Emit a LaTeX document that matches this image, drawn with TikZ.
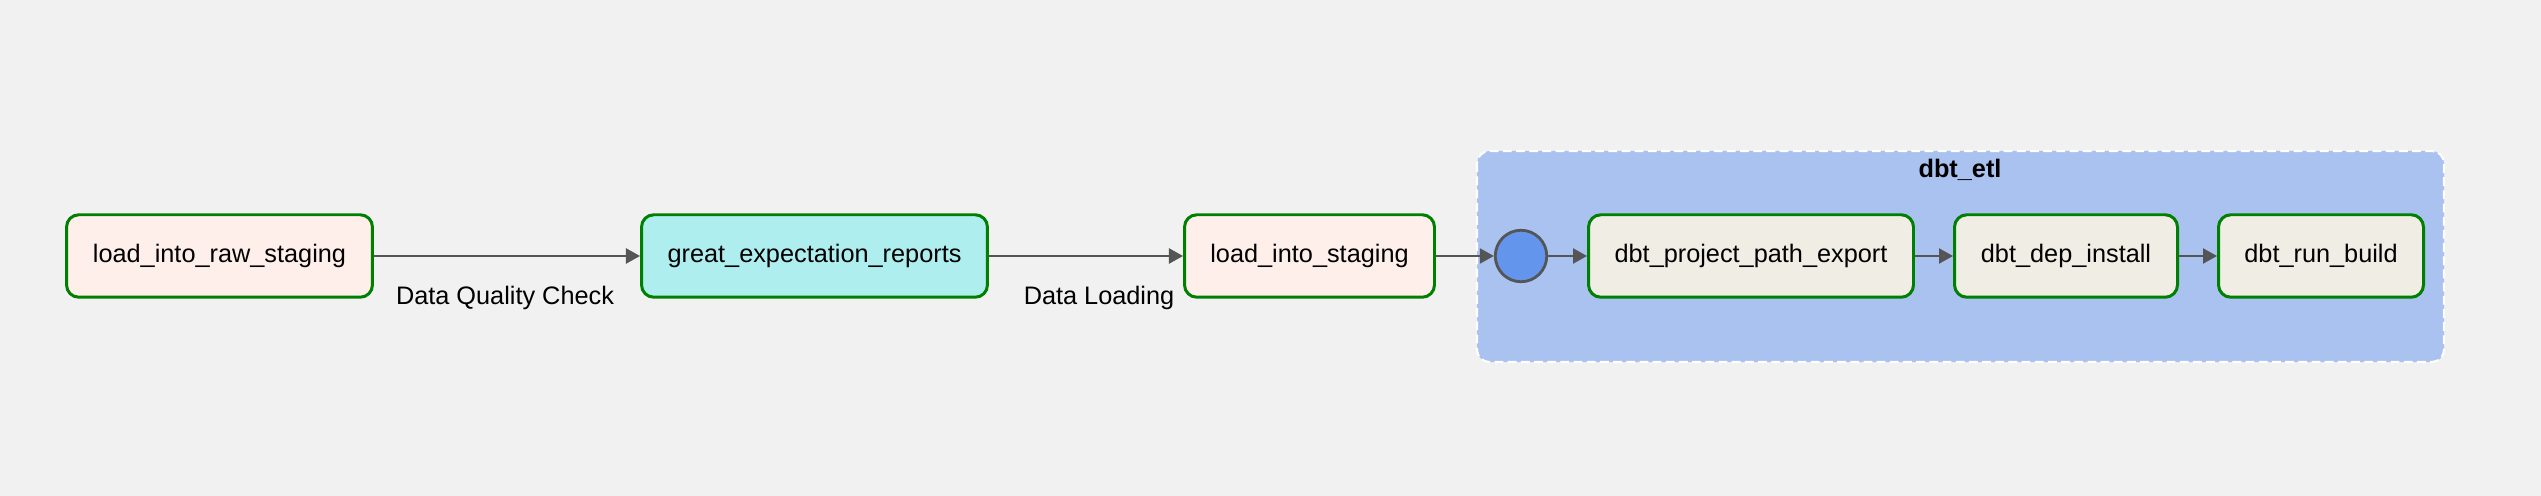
\documentclass[tikz,border=0pt]{standalone}
\usepackage{fontspec}
\setmainfont{Liberation Sans}
\usetikzlibrary{arrows.meta}
\definecolor{bgcol}{HTML}{F1F1F1}
\definecolor{groupblue}{HTML}{A9C2F0}
\definecolor{pyfill}{HTML}{FFEFEB}
\definecolor{gefill}{HTML}{AFEEEE}
\definecolor{bashfill}{HTML}{F0EDE4}
\definecolor{taskgreen}{HTML}{008000}
\definecolor{edgegray}{HTML}{555555}
\definecolor{startblue}{HTML}{6495ED}
\begin{document}
\begin{tikzpicture}[x=0.02cm, y=0.02cm]
                          \tikzstyle{every node}+=[inner sep=0pt, font=\fontsize{14.4}{17}\selectfont]
                          \tikzstyle{task}=[draw=taskgreen, line width=1.7pt, rounded corners=7pt, minimum height=1.65cm]
                          \tikzstyle{flow}=[draw=edgegray, line width=1.4pt, -{Triangle[length=8pt,width=8.5pt]}]
                          \fill [bgcol] (0,0) rectangle (2541,-496);
                          \useasboundingbox (0,0) rectangle (2541,-496);
                          \draw [white, fill=groupblue, line width=1.2pt, dash pattern=on 5pt off 2.5pt, rounded corners=7pt] (1477,-151) rectangle (2444,-362);
                          \node (etl) at (1960,-170) {\bfseries dbt\_etl};
                          \node [task, fill=pyfill, minimum width=6.12cm] (raw) at (219.5,-256) {load\_into\_raw\_staging};
                          \node [task, fill=gefill, minimum width=6.92cm] (gx) at (814.5,-256) {great\_expectation\_reports};
                          \node [task, fill=pyfill, minimum width=5cm] (stg) at (1309.5,-256) {load\_into\_staging};
                          \node [circle, draw=edgegray, line width=1.6pt, fill=startblue, minimum size=1.03cm] (start) at (1521,-256) {};
                          \node [task, fill=bashfill, minimum width=6.5cm] (export) at (1751,-256) {dbt\_project\_path\_export};
                          \node [task, fill=bashfill, minimum width=4.46cm] (dep) at (2066,-256) {dbt\_dep\_install};
                          \node [task, fill=bashfill, minimum width=4.1cm] (run) at (2321,-256) {dbt\_run\_build};
                          \draw [flow] (raw) -- (gx);
                          \node (dqc) at (505,-298) {Data Quality Check};
                          \draw [flow] (gx) -- (stg);
                          \node (dl) at (1099,-298) {Data Loading};
                          \draw [flow] (stg) -- (start);
                          \draw [flow] (start) -- (export);
                          \draw [flow] (export) -- (dep);
                          \draw [flow] (dep) -- (run);
                      \end{tikzpicture}
\end{document}
